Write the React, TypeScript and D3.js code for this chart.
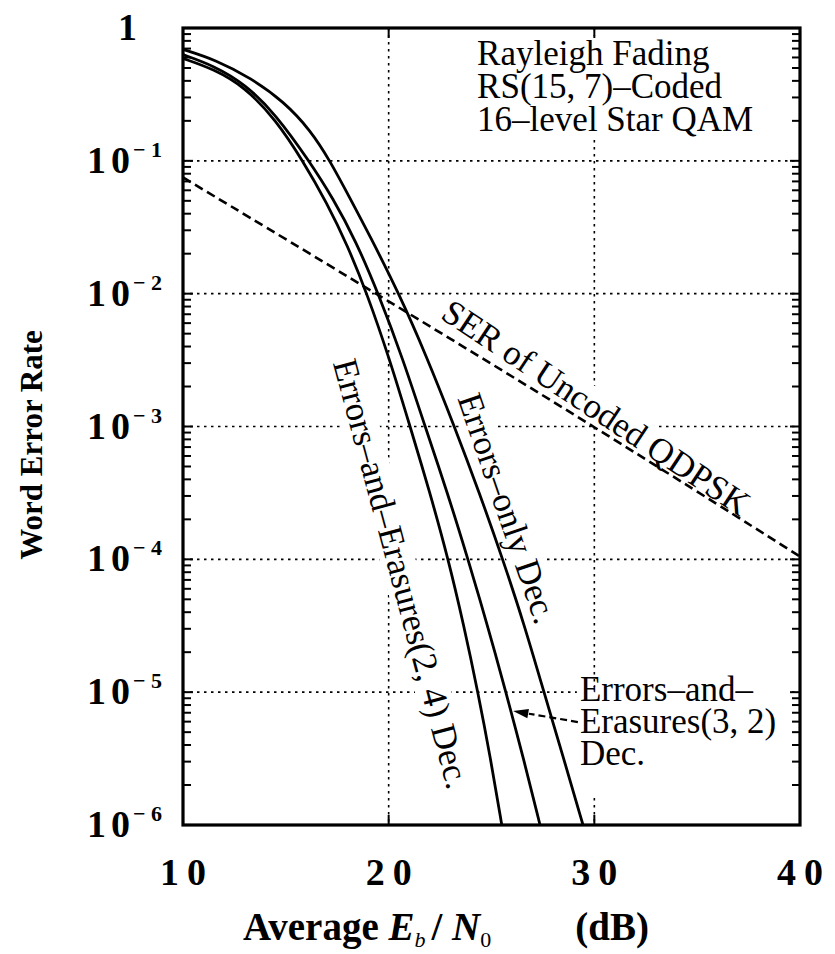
import React, { useEffect, useRef } from 'react';
import * as d3 from 'd3';

// axis ticks
const xTicks = [10, 20, 30, 40];
const yExponents = [0, -1, -2, -3, -4, -5, -6];

// Errors-only decoding
const snrErrOnly = [10, 11.6, 13.3, 14.9, 16.2, 17.15, 18.1, 19.1, 20.5, 21.8, 23.2, 24.4, 25.55, 26.6, 27.55, 28.5, 29.45];
const werErrOnly = [0.69, 0.575, 0.42, 0.28, 0.17, 0.1, 0.053, 0.027, 0.01, 3.5e-3, 1e-3, 3.2e-4, 1e-4, 3.2e-5, 1e-5, 3.2e-6, 1e-6];

// Errors-and-Erasures(3, 2)
const snrEE32 = [10, 11.5, 13, 14.5, 16.13, 17.3, 18.4, 19.5, 20.7, 21.77, 22.85, 23.86, 24.8, 25.7, 26.55, 27.36];
const werEE32 = [0.63, 0.52, 0.38, 0.225, 0.1, 0.052, 0.025, 0.01, 3.2e-3, 1e-3, 3.2e-4, 1e-4, 3.2e-5, 1e-5, 3.2e-6, 1e-6];

// Errors-and-Erasures(2, 4)
const snrEE24 = [10, 11.5, 13, 14.5, 15.83, 17, 18, 18.95, 20.05, 21.04, 22, 22.9, 23.65, 24.34, 24.95, 25.5];
const werEE24 = [0.59, 0.49, 0.36, 0.205, 0.1, 0.048, 0.023, 0.01, 3.2e-3, 1e-3, 3.2e-4, 1e-4, 3.2e-5, 1e-5, 3.2e-6, 1e-6];

// SER of uncoded QDPSK
const snrSer = [10, 20, 30, 40];
const serQdpsk = [0.075, 0.0088, 1.0e-3, 1.05e-4];

const boxLines = ['Rayleigh Fading', 'RS(15, 7)\u2013Coded', '16\u2013level Star QAM'];
const eeLines = ['Errors\u2013and\u2013', 'Erasures(3, 2)', 'Dec.'];

const W = 835;
const H = 954;
const FONT = "'Liberation Serif', 'Times New Roman', serif";

function App() {
    const svgRef = useRef<SVGSVGElement>(null);

    useEffect(() => {
        if (!svgRef.current) return;
        const svg = d3.select(svgRef.current);
        svg.selectAll('*').remove();

        const x = d3.scaleLinear().domain([10, 40]).range([183, 800]);
        const y = d3.scaleLog().domain([1e-6, 1]).range([825, 28]);

        svg.append('rect').attr('width', W).attr('height', H).attr('fill', '#fff');

        // dotted grid
        const grid = svg.append('g')
            .attr('stroke', '#000')
            .attr('stroke-width', 1.6)
            .attr('stroke-dasharray', '2.5 4.5');
        [20, 30].forEach(v => {
            grid.append('line').attr('x1', x(v)).attr('x2', x(v)).attr('y1', y(1)).attr('y2', y(1e-6));
        });
        yExponents.slice(1, -1).forEach(e => {
            grid.append('line').attr('x1', x(10)).attr('x2', x(40)).attr('y1', y(10 ** e)).attr('y2', y(10 ** e));
        });

        // text blocks (with white backing, like the original)
        const topBox = svg.append('g');
        topBox.append('rect').attr('x', x(24.1)).attr('y', 36).attr('width', 300).attr('height', 102).attr('fill', '#fff');
        boxLines.forEach((s, i) => {
            topBox.append('text')
                .attr('x', x(24.3)).attr('y', 65 + i * 33)
                .attr('font-family', FONT).attr('font-size', 35)
                .text(s);
        });

        const eeBox = svg.append('g');
        eeBox.append('rect').attr('x', x(29.15)).attr('y', y(10 ** -4.96)).attr('width', 212).attr('height', 108).attr('fill', '#fff');
        eeLines.forEach((s, i) => {
            eeBox.append('text')
                .attr('x', x(29.3)).attr('y', y(10 ** -5.067) + i * 32)
                .attr('font-family', FONT).attr('font-size', 35)
                .text(s);
        });

        // rotated labels along the curves
        const rotLabel = (cx: number, cy: number, angle: number, s: string) => {
            const g = svg.append('g').attr('transform', `translate(${cx},${cy}) rotate(${angle})`);
            const t = g.append('text')
                .attr('text-anchor', 'middle').attr('dy', '0.35em')
                .attr('font-family', FONT).attr('font-size', 35)
                .text(s);
            const bb = (t.node() as SVGTextElement).getBBox();
            g.insert('rect', 'text')
                .attr('x', bb.x - 3).attr('y', bb.y + 2)
                .attr('width', bb.width + 6).attr('height', bb.height - 4)
                .attr('fill', '#fff');
        };
        rotLabel(x(30.1), y(1.4e-3), 33.5, 'SER of Uncoded QDPSK');
        rotLabel(x(25.8), y(2.43e-4), 71, 'Errors\u2013only Dec.');
        rotLabel(x(20.65), y(7.8e-5), 75, 'Errors\u2013and\u2013Erasures(2, 4) Dec.');

        // curves
        const line = d3.line<[number, number]>()
            .x(d => x(d[0]))
            .y(d => y(d[1]))
            .curve(d3.curveBasis);

        const series: [number[], number[]][] = [
            [snrErrOnly, werErrOnly],
            [snrEE32, werEE32],
            [snrEE24, werEE24],
        ];
        series.forEach(([xs, ys]) => {
            svg.append('path')
                .datum(xs.map((v, i) => [v, ys[i]] as [number, number]))
                .attr('fill', 'none')
                .attr('stroke', '#000')
                .attr('stroke-width', 2.8)
                .attr('d', line);
        });

        svg.append('path')
            .datum(snrSer.map((v, i) => [v, serQdpsk[i]] as [number, number]))
            .attr('fill', 'none')
            .attr('stroke', '#000')
            .attr('stroke-width', 2.6)
            .attr('stroke-dasharray', '9 5')
            .attr('d', line);

        // arrow to the (3, 2) curve
        const ax0 = x(29.2), ay0 = y(10 ** -5.225);
        const ax1 = x(26.05), ay1 = y(10 ** -5.142);
        const ang = Math.atan2(ay1 - ay0, ax1 - ax0);
        const hl = 16;
        svg.append('line')
            .attr('x1', ax0).attr('y1', ay0)
            .attr('x2', ax1 - Math.cos(ang) * hl).attr('y2', ay1 - Math.sin(ang) * hl)
            .attr('stroke', '#000').attr('stroke-width', 2.2).attr('stroke-dasharray', '7 4');
        const hp = (a: number, r: number) => [ax1 + Math.cos(ang + a) * r, ay1 + Math.sin(ang + a) * r];
        svg.append('path')
            .attr('d', `M${ax1},${ay1}L${hp(Math.PI - 0.3, hl).join(',')}L${hp(Math.PI + 0.3, hl).join(',')}Z`)
            .attr('fill', '#000');

        // frame
        svg.append('rect')
            .attr('x', x(10)).attr('y', y(1))
            .attr('width', x(40) - x(10)).attr('height', y(1e-6) - y(1))
            .attr('fill', 'none').attr('stroke', '#000').attr('stroke-width', 3.2);

        // log ticks on left and right
        const minor: number[] = [];
        for (let e = -6; e < 0; e++) for (let m = 2; m <= 9; m++) minor.push(m * 10 ** e);
        const ticks = svg.append('g').attr('stroke', '#000').attr('stroke-width', 2);
        minor.forEach(v => {
            ticks.append('line').attr('x1', x(10)).attr('x2', x(10) + 8).attr('y1', y(v)).attr('y2', y(v));
            ticks.append('line').attr('x1', x(40)).attr('x2', x(40) - 8).attr('y1', y(v)).attr('y2', y(v));
        });
        yExponents.forEach(e => {
            ticks.append('line').attr('x1', x(10)).attr('x2', x(10) + 10).attr('y1', y(10 ** e)).attr('y2', y(10 ** e));
            ticks.append('line').attr('x1', x(40)).attr('x2', x(40) - 10).attr('y1', y(10 ** e)).attr('y2', y(10 ** e));
        });
        [20, 30].forEach(v => {
            ticks.append('line').attr('x1', x(v)).attr('x2', x(v)).attr('y1', y(1)).attr('y2', y(1) + 10);
            ticks.append('line').attr('x1', x(v)).attr('x2', x(v)).attr('y1', y(1e-6)).attr('y2', y(1e-6) - 10);
        });

        // y tick labels
        yExponents.forEach(e => {
            const t = svg.append('text')
                .attr('font-family', FONT).attr('font-weight', 'bold')
                .attr('text-anchor', 'end');
            if (e === 0) {
                t.attr('x', 137).attr('y', y(1) + 12).attr('font-size', 38).text('1');
            } else {
                t.attr('x', 162).attr('y', y(10 ** e) + 12);
                t.append('tspan').attr('font-size', 38).attr('letter-spacing', 5).text('10');
                t.append('tspan').attr('font-size', 22).attr('dy', -16).attr('dx', -2).text('\u2212 ' + String(-e));
            }
        });

        // x tick labels
        xTicks.forEach(v => {
            svg.append('text')
                .attr('x', x(v) + 4).attr('y', 885)
                .attr('text-anchor', 'middle')
                .attr('font-family', FONT).attr('font-weight', 'bold')
                .attr('font-size', 38).attr('letter-spacing', 8)
                .text(String(v));
        });

        // x axis title
        const xt = svg.append('text')
            .attr('x', 446).attr('y', 940)
            .attr('text-anchor', 'middle')
            .attr('font-family', FONT).attr('font-weight', 'bold').attr('font-size', 39);
        xt.append('tspan').text('Average ');
        xt.append('tspan').attr('font-style', 'italic').text('E');
        xt.append('tspan').attr('font-style', 'italic').attr('font-weight', 'normal').attr('font-size', 22).attr('dy', 7).text('b');
        xt.append('tspan').attr('dy', -7).attr('dx', 6).text('/ ');
        xt.append('tspan').attr('font-style', 'italic').text('N');
        xt.append('tspan').attr('font-weight', 'normal').attr('font-size', 22).attr('dy', 7).text('0');
        xt.append('tspan').attr('dy', -7).attr('dx', 84).text('(dB)');

        // y axis title
        svg.append('text')
            .attr('transform', 'translate(42,445) rotate(-90)')
            .attr('text-anchor', 'middle')
            .attr('font-family', FONT).attr('font-weight', 'bold').attr('font-size', 31)
            .text('Word Error Rate');
    }, []);

    return <svg ref={svgRef} width={W} height={H} style={{ position: 'absolute', left: 0, top: 0 }} />;
}

export default App;
